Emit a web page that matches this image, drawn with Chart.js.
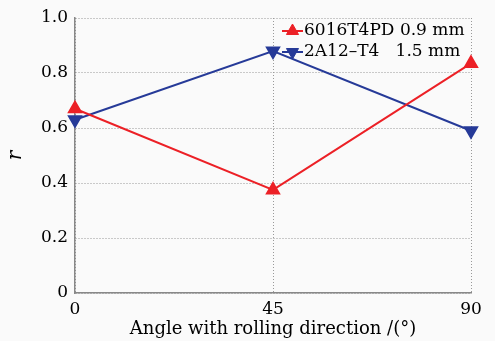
<!DOCTYPE html>
<html>
<head>
<meta charset="utf-8">
<script src="https://cdn.jsdelivr.net/npm/chart.js@4/dist/chart.umd.min.js"></script>
<style>
  html, body { margin: 0; padding: 0; background: #fafafa; }
  #wrap { width: 495px; height: 341px; position: relative; }
</style>
</head>
<body>
<div id="wrap"><canvas id="c" width="495" height="341"></canvas></div>
<script>
const angles = [0, 45, 90];
const seriesNames = ['6016T4PD 0.9 mm', '2A12\u2013T4   1.5 mm'];
const red6016 = [0.67, 0.375, 0.835];
const blue2A12 = [0.63, 0.88, 0.59];
const xTicks = [0, 45, 90];
const yTicks = [0, 0.2, 0.4, 0.6, 0.8, 1.0];
const xTitle = 'Angle with rolling direction /(\u00b0)';
const yTitle = 'r';

const RED = 'rgb(236,32,38)';
const BLUE = 'rgb(38,58,152)';
const FONT = 'DejaVu Serif';

const bgPlugin = {
  id: 'bg',
  beforeDraw(chart) {
    const ctx = chart.ctx;
    ctx.save();
    ctx.fillStyle = '#fafafa';
    ctx.fillRect(0, 0, chart.width, chart.height);
    ctx.restore();
  }
};

const legendPlugin = {
  id: 'inlegend',
  afterDatasetsDraw(chart) {
    const ctx = chart.ctx;
    const x0 = 282, x1 = 303, tx = 304;
    const rows = [31, 52];
    chart.data.datasets.forEach((ds, i) => {
      const y = rows[i];
      ctx.save();
      ctx.strokeStyle = ds.borderColor;
      ctx.lineWidth = 2;
      ctx.beginPath();
      ctx.moveTo(x0, y);
      ctx.lineTo(x1, y);
      ctx.stroke();
      ctx.fillStyle = ds.pointBackgroundColor;
      ctx.strokeStyle = ds.pointBorderColor;
      ctx.lineWidth = 1;
      Chart.helpers.drawPoint(ctx, {
        pointStyle: 'triangle',
        rotation: ds.pointRotation,
        radius: 7,
        borderWidth: 1
      }, (x0 + x1) / 2, y);
      ctx.restore();
      ctx.save();
      ctx.fillStyle = '#000';
      ctx.font = '17px "' + FONT + '"';
      ctx.textBaseline = 'middle';
      ctx.textAlign = 'left';
      ctx.fillText(ds.label, tx, y);
      ctx.restore();
    });
  }
};

new Chart(document.getElementById('c'), {
  type: 'line',
  data: {
    datasets: [
      {
        label: seriesNames[0],
        data: angles.map((a, i) => ({ x: a, y: red6016[i] })),
        borderColor: RED,
        backgroundColor: RED,
        pointBackgroundColor: RED,
        pointBorderColor: RED,
        pointStyle: 'triangle',
        pointRotation: 0,
        pointRadius: 7,
        borderWidth: 2,
        tension: 0,
        clip: false
      },
      {
        label: seriesNames[1],
        data: angles.map((a, i) => ({ x: a, y: blue2A12[i] })),
        borderColor: BLUE,
        backgroundColor: BLUE,
        pointBackgroundColor: BLUE,
        pointBorderColor: BLUE,
        pointStyle: 'triangle',
        pointRotation: 180,
        pointRadius: 7,
        borderWidth: 2,
        tension: 0,
        clip: false
      }
    ]
  },
  options: {
    responsive: false,
    animation: false,
    devicePixelRatio: 1,
    layout: { padding: { left: 0, right: 24, top: 18, bottom: 0 } },
    plugins: {
      legend: { display: false },
      tooltip: { enabled: false }
    },
    scales: {
      x: {
        type: 'linear',
        min: 0,
        max: 90,
        afterBuildTicks(scale) { scale.ticks = xTicks.map(v => ({ value: v })); },
        afterFit(scale) { scale.height = 48; },
        ticks: {
          color: '#000',
          font: { family: FONT, size: 17 },
          padding: 6,
          maxRotation: 0,
          callback: v => String(v)
        },
        grid: { color: '#999', lineWidth: 1, drawTicks: false },
        border: { display: true, color: '#888', width: 1.5, dash: [1, 2] },
        title: {
          display: true,
          text: xTitle,
          color: '#000',
          font: { family: FONT, size: 18 },
          padding: { top: 0, bottom: 1 }
        }
      },
      y: {
        type: 'linear',
        min: 0,
        max: 1,
        afterBuildTicks(scale) { scale.ticks = yTicks.map(v => ({ value: v })); },
        afterFit(scale) { scale.width = 75; },
        ticks: {
          color: '#000',
          font: { family: FONT, size: 17 },
          padding: 7,
          callback: v => (v === 0 ? '0' : v.toFixed(1))
        },
        grid: { color: '#999', lineWidth: 1, drawTicks: false },
        border: { display: true, color: '#888', width: 1.5, dash: [1, 2] },
        title: {
          display: true,
          text: yTitle,
          color: '#000',
          font: { family: FONT, size: 20, style: 'italic' },
          padding: { top: 4, bottom: 0 }
        }
      }
    }
  },
  plugins: [bgPlugin, legendPlugin]
});
</script>
</body>
</html>
